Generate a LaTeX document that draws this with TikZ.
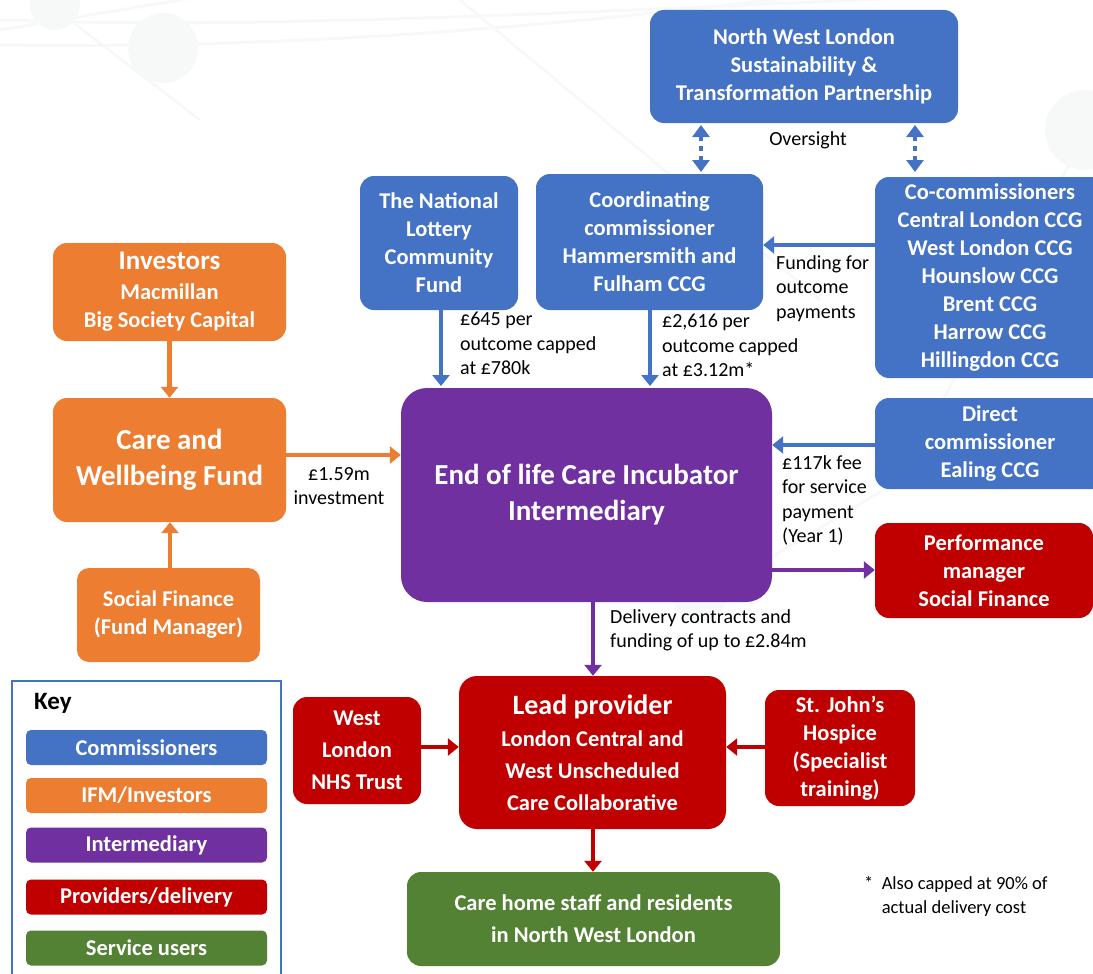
\documentclass[tikz,border=0pt]{standalone}
\usepackage{fontspec}
\setmainfont{Carlito}
\usetikzlibrary{arrows.meta}
\definecolor{cblue}{HTML}{4472C4}
\definecolor{corange}{HTML}{ED7D31}
\definecolor{cpurple}{HTML}{7030A0}
\definecolor{cred}{HTML}{C00000}
\definecolor{cgreen}{HTML}{548235}
\definecolor{bgline}{HTML}{F7F8F8}
\tikzset{
  box/.style={draw=none, rounded corners=14pt, text=white, align=center,
    font=\bfseries\fontsize{22.5}{28}\selectfont, inner sep=0pt},
  wide/.style={font=\bfseries\fontsize{22.5}{32}\selectfont},
  bigbox/.style={box, font=\bfseries\fontsize{29}{36}\selectfont},
  keybox/.style={box, rounded corners=5pt, minimum width=241pt, minimum height=35pt,
    font=\bfseries\fontsize{22.5}{24}\selectfont},
  lbl/.style={align=left, anchor=north west, inner sep=0pt, text=black,
    font=\fontsize{20}{24.5}\selectfont},
  arr/.style={line width=4.5pt, -{Triangle[width=17pt,length=11pt]}},
  darr/.style={cblue, line width=4.5pt, dash pattern=on 5pt off 5pt,
    {Triangle[width=17pt,length=12pt]}-{Triangle[width=17pt,length=12pt]}},
}
\begin{document}
\begin{tikzpicture}[x=1pt,y=-1pt]
\useasboundingbox (0,0) rectangle (1093,974);
% faint background network
\begin{scope}[bgline, line width=3pt]
\draw (0,20) .. controls (300,30) and (600,10) .. (1093,-10);
\draw (0,45) .. controls (400,50) and (700,10) .. (1093,-40);
\draw (70,20) -- (200,120);
\draw (0,30) -- (240,-10);
\draw (460,0) -- (820,300);
\draw (1093,120) -- (900,480) -- (700,600);
\fill (55,5) circle (25);
\fill (163,48) circle (35);
\fill (1085,130) circle (40);
\fill (700,590) circle (30);
\end{scope}
% commissioners
\node[box, fill=cblue, minimum width=308pt, minimum height=113pt] (stp) at (804,66.5)
  {North West London\\Sustainability \&\\Transformation Partnership};
\node[lbl, anchor=center] (ovs) at (808,140) {Oversight};
\node[box, fill=cblue, minimum width=158pt, minimum height=134pt] (lot) at (439,243)
  {The National\\Lottery\\Community\\Fund};
\node[box, fill=cblue, minimum width=227pt, minimum height=136pt] (coord) at (649.5,242)
  {Coordinating\\commissioner\\Hammersmith and\\Fulham CCG};
\node[box, fill=cblue, minimum width=230pt, minimum height=201pt] (cocom) at (990,277.5)
  {Co-commissioners\\Central London CCG\\West London CCG\\Hounslow CCG\\Brent CCG\\Harrow CCG\\Hillingdon CCG};
\node[box, fill=cblue, minimum width=230pt, minimum height=91pt] (direct) at (990,443.5)
  {Direct\\commissioner\\Ealing CCG};
% investors
\node[box, fill=corange, minimum width=233pt, minimum height=98pt] (inv) at (169.5,292)
  {{\fontsize{27}{31}\selectfont Investors}\\[2pt]Macmillan\\Big Society Capital};
\node[bigbox, fill=corange, minimum width=233pt, minimum height=124pt] (cwf) at (169.5,460)
  {Care and\\Wellbeing Fund};
\node[box, fill=corange, minimum width=183pt, minimum height=94pt, rounded corners=12pt] (sf) at (168.5,615)
  {Social Finance\\(Fund Manager)};
% intermediary
\node[bigbox, fill=cpurple, minimum width=371pt, minimum height=214pt, rounded corners=26pt] (int) at (586.5,495)
  {End of life Care Incubator\\Intermediary};
\node[box, fill=cred, minimum width=218pt, minimum height=95pt] (perf) at (984,570.5)
  {Performance\\manager\\Social Finance};
% providers
\node[box, wide, fill=cred, minimum width=267pt, minimum height=153pt, rounded corners=18pt] (lead) at (592.5,752.5)
  {{\fontsize{28}{34}\selectfont Lead provider}\\London Central and\\West Unscheduled\\Care Collaborative};
\node[box, wide, fill=cred, minimum width=128pt, minimum height=107pt] (wl) at (357,750.5)
  {West\\London\\NHS Trust};
\node[box, fill=cred, minimum width=150pt, minimum height=116pt] (sj) at (840,748)
  {St. John's\\Hospice\\(Specialist\\training)};
\node[box, wide, fill=cgreen, minimum width=373pt, minimum height=94pt] (care) at (593.5,919)
  {Care home staff and residents\\in North West London};
% connectors
\draw[darr] (701,125) -- (701,172);
\draw[darr] (915,125) -- (915,172);
\draw[arr, cblue] (cocom.west |- 0,245) -- (coord.east |- 0,245);
\node[lbl] (l1) at (776,255) {Funding for\\outcome\\payments};
\draw[arr, cblue] (lot.south -| 441,0) -- (441,386);
\node[lbl] (l2) at (460,312) {£645 per\\outcome capped\\at £780k};
\draw[arr, cblue] (coord.south -| 650,0) -- (650,386);
\node[lbl] (l3) at (662,314) {£2,616 per\\outcome capped\\at £3.12m*};
\draw[arr, corange] (inv.south) -- (cwf.north);
\draw[arr, corange] (sf.north -| 170,0) -- (cwf.south -| 170,0);
\draw[arr, corange] (cwf.east |- 0,455) -- (int.west |- 0,455);
\node[lbl, align=center, anchor=north] (l4) at (339,467) {£1.59m\\investment};
\draw[arr, cblue] (direct.west |- 0,445) -- (int.east |- 0,445);
\node[lbl] (l5) at (782,455) {£117k fee\\for service\\payment\\(Year 1)};
\draw[arr, cpurple] (int.east |- 0,570) -- (perf.west |- 0,570);
\draw[arr, cpurple] (int.south -| 593,0) -- (lead.north -| 593,0);
\node[lbl] (l6) at (610,609) {Delivery contracts and\\funding of up to £2.84m};
\draw[arr, cred] (wl.east |- 0,747) -- (lead.west |- 0,747);
\draw[arr, cred] (sj.west |- 0,747) -- (lead.east |- 0,747);
\draw[arr, cred] (lead.south -| 593,0) -- (care.north -| 593,0);
\node[lbl, font=\fontsize{18.5}{24.5}\selectfont] (fn) at (864,876) {*\ \ Also capped at 90\% of\\\phantom{*}\ \ actual delivery cost};
% key
\draw[cblue, line width=1.5pt] (12,980) -- (12,681) -- (281,681) -- (281,980);
\node[anchor=west, inner sep=0pt, font=\bfseries\fontsize{25}{28}\selectfont] (key) at (34,703) {Key};
\node[keybox, fill=cblue] (k1) at (146.5,747.5) {Commissioners};
\node[keybox, fill=corange] (k2) at (146.5,795.5) {IFM/Investors};
\node[keybox, fill=cpurple] (k3) at (146.5,845) {Intermediary};
\node[keybox, fill=cred] (k4) at (146.5,897) {Providers/delivery};
\node[keybox, fill=cgreen] (k5) at (146.5,948) {Service users};
\end{tikzpicture}
\end{document}
